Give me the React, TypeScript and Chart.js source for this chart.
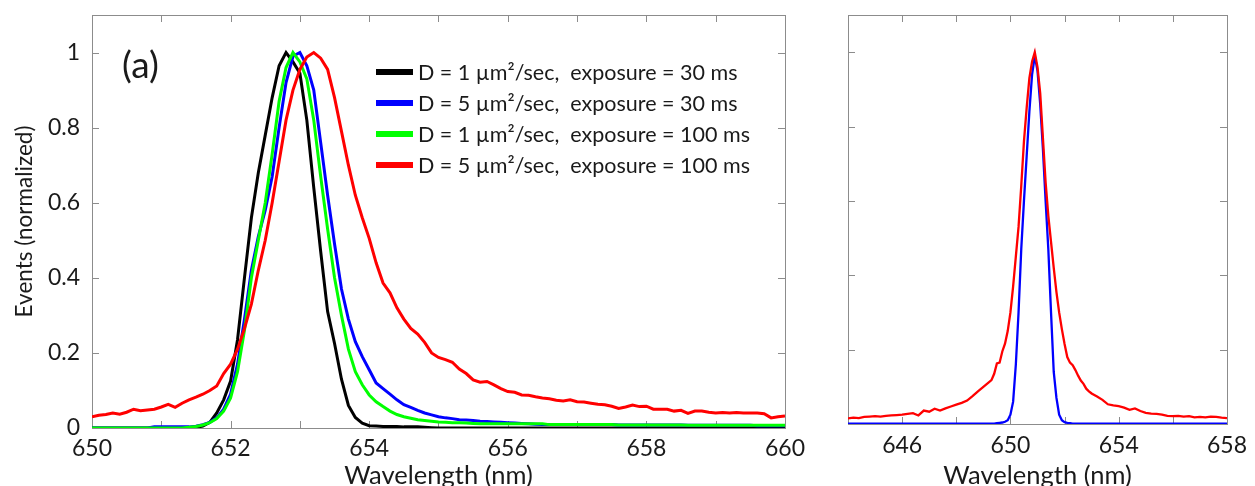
import React, { useEffect, useRef } from "react";
import { Chart, registerables } from "chart.js";

Chart.register(...registerables);

const FONT = 'Lato, "Open Sans", sans-serif';
const TEXT = "#1a1a1a";
const FRAME = "#8c8c8c";

// ---------- Panel (a) data ----------
const wavelengthsA = [
  650.0, 650.1, 650.2, 650.3, 650.4, 650.5, 650.6, 650.7, 650.8, 650.9,
  651.0, 651.1, 651.2, 651.3, 651.4, 651.5, 651.6, 651.7, 651.8, 651.9,
  652.0, 652.1, 652.2, 652.3, 652.4, 652.5, 652.6, 652.7, 652.8, 652.9,
  653.0, 653.1, 653.2, 653.3, 653.4, 653.5, 653.6, 653.7, 653.8, 653.9,
  654.0, 654.1, 654.2, 654.3, 654.4, 654.5, 654.6, 654.7, 654.8, 654.9,
  655.0, 655.1, 655.2, 655.3, 655.4, 655.5, 655.6, 655.7, 655.8, 655.9,
  656.0, 656.1, 656.2, 656.3, 656.4, 656.5, 656.6, 656.7, 656.8, 656.9,
  657.0, 657.1, 657.2, 657.3, 657.4, 657.5, 657.6, 657.7, 657.8, 657.9,
  658.0, 658.1, 658.2, 658.3, 658.4, 658.5, 658.6, 658.7, 658.8, 658.9,
  659.0, 659.1, 659.2, 659.3, 659.4, 659.5, 659.6, 659.7, 659.8, 659.9,
  660.0,
];

const blackD1Exp30 = [
  0, 0, 0, 0, 0, 0, 0, 0, 0, 0,
  0, 0, 0, 0, 0, 0.002, 0.005, 0.015, 0.04, 0.075,
  0.125, 0.235, 0.4, 0.56, 0.68, 0.78, 0.88, 0.965, 1.0, 0.975,
  0.945, 0.82, 0.64, 0.47, 0.31, 0.225, 0.13, 0.06, 0.028, 0.013,
  0.006, 0.005, 0.004, 0.004, 0.004, 0.003, 0.003, 0.003, 0.002, 0.001,
  0, 0, 0, 0, 0, 0, 0, 0, 0, 0,
  0, 0, 0, 0, 0, 0, 0, 0, 0, 0,
  0, 0, 0, 0, 0, 0, 0, 0, 0, 0,
  0, 0, 0, 0, 0, 0, 0, 0, 0, 0,
  0, 0, 0, 0, 0, 0, 0, 0, 0, 0,
  0,
];

const blueD5Exp30 = [
  0, 0, 0, 0, 0, 0, 0, 0, 0, 0.003,
  0.003, 0.003, 0.003, 0.003, 0.003, 0.005, 0.009, 0.015, 0.027, 0.05,
  0.09, 0.17, 0.29, 0.42, 0.51, 0.58, 0.67, 0.8, 0.92, 0.99,
  1.0, 0.965, 0.9, 0.76, 0.62, 0.49, 0.37, 0.29, 0.23, 0.19,
  0.155, 0.12, 0.105, 0.09, 0.075, 0.062, 0.055, 0.047, 0.04, 0.035,
  0.03, 0.027, 0.025, 0.022, 0.021, 0.02, 0.018, 0.017, 0.016, 0.015,
  0.014, 0.013, 0.012, 0.011, 0.01, 0.009, 0.009, 0.009, 0.009, 0.009,
  0.009, 0.009, 0.009, 0.009, 0.009, 0.009, 0.008, 0.008, 0.008, 0.008,
  0.008, 0.008, 0.008, 0.008, 0.008, 0.008, 0.007, 0.007, 0.007, 0.007,
  0.007, 0.007, 0.007, 0.007, 0.007, 0.007, 0.006, 0.006, 0.006, 0.006,
  0.006,
];

const greenD1Exp100 = [
  0, 0, 0, 0, 0, 0, 0, 0, 0, 0,
  0, 0, 0, 0, 0.002, 0.004, 0.008, 0.014, 0.025, 0.045,
  0.08, 0.15, 0.26, 0.4, 0.5, 0.6, 0.73, 0.87, 0.96, 1.0,
  0.975, 0.93, 0.82, 0.67, 0.53, 0.4, 0.3, 0.21, 0.15, 0.115,
  0.088, 0.07, 0.057, 0.045, 0.036, 0.03, 0.026, 0.022, 0.02, 0.018,
  0.016, 0.015, 0.014, 0.014, 0.013, 0.012, 0.011, 0.011, 0.011, 0.011,
  0.011, 0.011, 0.011, 0.011, 0.011, 0.011, 0.009, 0.009, 0.009, 0.009,
  0.009, 0.009, 0.009, 0.009, 0.009, 0.009, 0.008, 0.008, 0.008, 0.008,
  0.008, 0.008, 0.008, 0.008, 0.008, 0.008, 0.007, 0.007, 0.007, 0.007,
  0.007, 0.007, 0.007, 0.007, 0.007, 0.007, 0.007, 0.007, 0.007, 0.007,
  0.007,
];

const redD5Exp100 = [
  0.03, 0.034, 0.036, 0.04, 0.037, 0.042, 0.05, 0.046, 0.048, 0.05,
  0.056, 0.063, 0.055, 0.066, 0.075, 0.082, 0.09, 0.1, 0.112, 0.145,
  0.17, 0.21, 0.265, 0.33, 0.42, 0.5, 0.6, 0.71, 0.82, 0.9,
  0.955, 0.988, 1.0, 0.985, 0.955, 0.88, 0.79, 0.7, 0.62, 0.56,
  0.505, 0.44, 0.386, 0.36, 0.32, 0.29, 0.265, 0.25, 0.228, 0.2,
  0.188, 0.182, 0.175, 0.157, 0.145, 0.128, 0.122, 0.124, 0.115, 0.105,
  0.097, 0.095, 0.088, 0.087, 0.083, 0.08, 0.078, 0.074, 0.072, 0.075,
  0.07, 0.069, 0.066, 0.063, 0.062, 0.058, 0.052, 0.056, 0.061, 0.057,
  0.058, 0.05, 0.05, 0.05, 0.045, 0.047, 0.039, 0.045, 0.045, 0.042,
  0.04, 0.041, 0.04, 0.041, 0.04, 0.04, 0.04, 0.038, 0.027, 0.03,
  0.032,
];

const seriesA = [blackD1Exp30, blueD5Exp30, greenD1Exp100, redD5Exp100];
const seriesALabels = [
  "D = 1 \u00B5m\u00B2/sec,  exposure = 30 ms",
  "D = 5 \u00B5m\u00B2/sec,  exposure = 30 ms",
  "D = 1 \u00B5m\u00B2/sec,  exposure = 100 ms",
  "D = 5 \u00B5m\u00B2/sec,  exposure = 100 ms",
];
const seriesAColors = ["#000000", "#0000ff", "#00ff00", "#ff0000"];

// ---------- Panel (b) data ----------
const wavelengthsB = [
  644.0, 644.2, 644.4, 644.6, 644.8, 645.0, 645.2, 645.4, 645.6, 645.8,
  646.0, 646.2, 646.4, 646.6, 646.8, 647.0, 647.2, 647.4, 647.6, 647.8,
  648.0, 648.2, 648.4, 648.6, 648.8, 649.0,
  649.1, 649.2, 649.3, 649.4, 649.5, 649.6, 649.7, 649.8, 649.9, 650.0,
  650.1, 650.2, 650.3, 650.4, 650.5, 650.6, 650.7, 650.8, 650.9, 651.0,
  651.1, 651.2, 651.3, 651.4, 651.5, 651.6, 651.7, 651.8, 651.9, 652.0,
  652.1, 652.2, 652.3, 652.4, 652.5, 652.6, 652.7, 652.8, 652.9, 653.0,
  653.2, 653.4, 653.6, 653.8, 654.0, 654.2, 654.4, 654.6, 654.8, 655.0,
  655.2, 655.4, 655.6, 655.8, 656.0, 656.2, 656.4, 656.6, 656.8, 657.0,
  657.2, 657.4, 657.6, 657.8, 658.0,
];

const redB = [
  0.015, 0.017, 0.016, 0.019, 0.02, 0.021, 0.02, 0.022, 0.023, 0.024,
  0.025, 0.027, 0.029, 0.023, 0.036, 0.033, 0.041, 0.036, 0.042, 0.047,
  0.052, 0.057, 0.063, 0.075, 0.088, 0.1,
  0.106, 0.112, 0.118, 0.135, 0.163, 0.165, 0.195, 0.216, 0.25, 0.3,
  0.37, 0.45, 0.53, 0.64, 0.76, 0.85, 0.93, 0.975, 1.0, 0.96,
  0.89, 0.77, 0.65, 0.56, 0.49, 0.42, 0.355, 0.3, 0.255, 0.215,
  0.18, 0.165, 0.158, 0.145, 0.13, 0.117, 0.108, 0.095, 0.088, 0.082,
  0.074, 0.065, 0.053, 0.05, 0.048, 0.044, 0.038, 0.042, 0.035, 0.03,
  0.028, 0.027, 0.025, 0.022, 0.021, 0.022, 0.02, 0.021, 0.018, 0.019,
  0.018, 0.02, 0.019, 0.017, 0.016,
];

const blueB = [
  0.001, 0.001, 0.001, 0.001, 0.001, 0.001, 0.001, 0.001, 0.001, 0.001,
  0.001, 0.001, 0.001, 0.001, 0.001, 0.001, 0.001, 0.001, 0.001, 0.001,
  0.001, 0.001, 0.001, 0.001, 0.001, 0.001,
  0.001, 0.001, 0.001, 0.001, 0.002, 0.003, 0.004, 0.006, 0.01, 0.025,
  0.06, 0.16, 0.3, 0.47, 0.6, 0.72, 0.84, 0.94, 0.99, 0.95,
  0.86, 0.74, 0.6, 0.47, 0.3, 0.14, 0.07, 0.025, 0.01, 0.005,
  0.003, 0.002, 0.001, 0.001, 0.001, 0.001, 0.001, 0.001, 0.001, 0.001,
  0.001, 0.001, 0.001, 0.001, 0.001, 0.001, 0.001, 0.001, 0.001, 0.001,
  0.001, 0.001, 0.001, 0.001, 0.001, 0.001, 0.001, 0.001, 0.001, 0.001,
  0.001, 0.001, 0.001, 0.001, 0.001,
];

const seriesB = [blueB, redB];
const seriesBColors = ["#0000ff", "#ff0000"];

const xTitle = "Wavelength (nm)";
const yTitle = "Events (normalized)";

// ---------- plugins ----------
const frameTicks = {
  id: "frameTicks",
  beforeDatasetsDraw(chart: any) {
    const { ctx, chartArea: a, scales } = chart;
    const L = 7;
    ctx.save();
    ctx.strokeStyle = FRAME;
    ctx.lineWidth = 1;
    ctx.beginPath();
    scales.x.ticks.forEach((t: any) => {
      const px = Math.round(scales.x.getPixelForValue(t.value)) + 0.5;
      ctx.moveTo(px, a.bottom);
      ctx.lineTo(px, a.bottom - L);
      ctx.moveTo(px, a.top);
      ctx.lineTo(px, a.top + L);
    });
    scales.y.ticks.forEach((t: any) => {
      const py = Math.round(scales.y.getPixelForValue(t.value)) + 0.5;
      ctx.moveTo(a.left, py);
      ctx.lineTo(a.left + L, py);
      ctx.moveTo(a.right, py);
      ctx.lineTo(a.right - L, py);
    });
    ctx.stroke();
    ctx.strokeRect(
      Math.round(a.left) + 0.5,
      Math.round(a.top) + 0.5,
      Math.round(a.right - a.left),
      Math.round(a.bottom - a.top)
    );
    ctx.restore();
  },
};

function makeTextPlugin(panelLabel: string, labelX: number, legend: boolean) {
  return {
    id: "panelText",
    afterDraw(chart: any) {
      const { ctx } = chart;
      ctx.save();
      ctx.fillStyle = TEXT;
      ctx.font = `37px ${FONT}`;
      ctx.textAlign = "left";
      ctx.textBaseline = "middle";
      ctx.fillText(panelLabel, labelX, 66);
      if (legend) {
        ctx.font = `21.5px ${FONT}`;
        seriesALabels.forEach((lab, i) => {
          const y = 72 + i * 31;
          ctx.strokeStyle = seriesAColors[i];
          ctx.lineWidth = 6;
          ctx.beginPath();
          ctx.moveTo(376, y);
          ctx.lineTo(413, y);
          ctx.stroke();
          ctx.fillStyle = TEXT;
          ctx.fillText(lab, 418, y + 1);
        });
      }
      ctx.restore();
    },
  };
}

const tickFontX = { family: FONT, size: 23 };
const tickFontY = { family: FONT, size: 23, lineHeight: 0.2 };
const titleFont = { family: FONT, size: 25.5, lineHeight: 0.8 };

export default function App() {
  const refA = useRef<HTMLCanvasElement | null>(null);
  const refB = useRef<HTMLCanvasElement | null>(null);

  useEffect(() => {
    const orderA = [4, 3, 2, 1];
    const chartA = new Chart(refA.current as HTMLCanvasElement, {
      type: "line",
      data: {
        datasets: seriesA.map((s, i) => ({
          label: seriesALabels[i],
          data: wavelengthsA.map((x, j) => ({ x, y: s[j] })),
          borderColor: seriesAColors[i],
          backgroundColor: seriesAColors[i],
          borderWidth: 3,
          pointRadius: 0,
          tension: 0,
          fill: false,
          order: orderA[i],
        })),
      },
      options: {
        animation: false,
        responsive: false,
        layout: { padding: { top: 15, right: 25, left: 0, bottom: 0 } },
        plugins: { legend: { display: false }, tooltip: { enabled: false } },
        scales: {
          x: {
            type: "linear",
            min: 650,
            max: 660,
            ticks: {
              stepSize: 1,
              autoSkip: false,
              maxRotation: 0,
              padding: 7,
              font: tickFontX,
              color: TEXT,
              callback: (v: any) => (Math.round(v) % 2 === 0 ? String(Math.round(v)) : ""),
            },
            grid: { display: false, drawTicks: false },
            border: { display: false },
            title: { display: true, text: xTitle, font: titleFont, color: TEXT, padding: 0 },
            afterFit: (s: any) => {
              s.height = 58;
            },
          },
          y: {
            type: "linear",
            min: 0,
            max: 1.1,
            ticks: {
              stepSize: 0.2,
              includeBounds: false,
              padding: 12,
              font: tickFontY,
              color: TEXT,
              callback: (v: any) => String(Math.round(v * 10) / 10),
            },
            grid: { display: false, drawTicks: false },
            border: { display: false },
            title: { display: true, text: yTitle, font: { family: FONT, size: 22.5 }, color: TEXT, padding: { top: 11, bottom: 0 } },
            afterFit: (s: any) => {
              s.width = 92;
            },
          },
        },
      },
      plugins: [frameTicks, makeTextPlugin("(a)", 122, true)],
    } as any);

    const orderB = [2, 1];
    const chartB = new Chart(refB.current as HTMLCanvasElement, {
      type: "line",
      data: {
        datasets: seriesB.map((s, i) => ({
          data: wavelengthsB.map((x, j) => ({ x, y: s[j] })),
          borderColor: seriesBColors[i],
          backgroundColor: seriesBColors[i],
          borderWidth: 2.3,
          pointRadius: 0,
          tension: 0,
          fill: false,
          order: orderB[i],
        })),
      },
      options: {
        animation: false,
        responsive: false,
        layout: { padding: { top: 15, right: 26, left: 0, bottom: 0 } },
        plugins: { legend: { display: false }, tooltip: { enabled: false } },
        scales: {
          x: {
            type: "linear",
            min: 644,
            max: 658,
            ticks: {
              stepSize: 2,
              autoSkip: false,
              maxRotation: 0,
              padding: 8,
              font: tickFontX,
              color: TEXT,
              callback: (v: any) => ((Math.round(v) - 646) % 4 === 0 ? String(Math.round(v)) : ""),
            },
            grid: { display: false, drawTicks: false },
            border: { display: false },
            title: { display: true, text: xTitle, font: titleFont, color: TEXT, padding: 0 },
            afterFit: (s: any) => {
              s.height = 62;
            },
          },
          y: {
            type: "linear",
            min: 0,
            max: 1.1,
            ticks: {
              stepSize: 0.2,
              includeBounds: false,
              padding: 0,
              font: tickFontY,
              color: TEXT,
              callback: () => "",
            },
            grid: { display: false, drawTicks: false },
            border: { display: false },
            afterFit: (s: any) => {
              s.width = 28;
            },
          },
        },
      },
      plugins: [frameTicks, makeTextPlugin("(b)", 881, false)],
    } as any);

    return () => {
      chartA.destroy();
      chartB.destroy();
    };
  }, []);

  return (
    <div style={{ position: "absolute", left: 0, top: 0, width: 1255, height: 486, background: "#ffffff", overflow: "hidden" }}>
      <canvas ref={refA} width={812} height={486} style={{ position: "absolute", left: 0, top: 0 }} />
      <canvas ref={refB} width={435} height={486} style={{ position: "absolute", left: 820, top: 0 }} />
    </div>
  );
}
